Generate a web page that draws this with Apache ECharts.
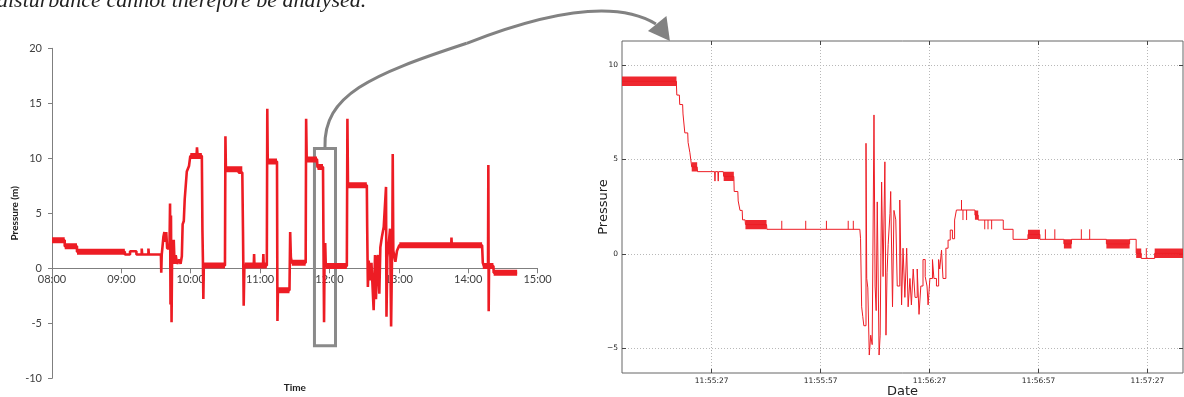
<!DOCTYPE html>
<html>
<head>
<meta charset="utf-8">
<script src="https://cdn.jsdelivr.net/npm/echarts@6/dist/echarts.min.js"></script>
<style>
  html, body { margin: 0; padding: 0; background: #fff; }
  #chart { width: 1184px; height: 397px; }
</style>
</head>
<body>
<div id="chart"></div>
<script>
// ---- overview (left): minutes after 08:00, pressure in m ----
const overviewMin = [
  0, 11, 11, 21.6, 21.6, 63, 63,
  67.5, 67.5, 73, 73, 77.6, 77.6, 78, 83.4, 83.4, 83.8,
  94.2, 94.5, 94.9, 95.6, 96.4, 97.2, 98, 98.8, 99.6, 101.6,
  102.1, 102.5, 102.9, 103.4, 103.9, 104.6, 105.3, 106, 107, 108.2, 110, 111.2, 112.3,
  113, 114, 114.8, 115.8, 116.6, 118.5, 119.6, 125, 125.4, 125.8, 129.6,
  130.1, 130.5, 130.9, 131.3, 149.6,
  150, 150.4, 161, 161.5, 164.6, 165.2, 165.8, 166.4,
  174.5, 174.8, 175.1, 182.5, 182.8, 183.1, 185.8,
  186.2, 186.6, 194.6, 195, 195.4, 205.4,
  206, 206.6, 207.4, 219.4,
  219.8, 220.3, 229.2, 229.6, 234.4,
  234.8, 235.3, 235.7, 236.3, 236.8, 255,
  255.5, 256, 272.3,
  272.6, 273.2, 273.9, 275.1, 276.3, 278.2, 279.4, 280.2, 281.4, 282, 283.1, 284, 285.4, 286.9, 288.6,
  288.9, 289.3, 290, 291.2, 292.4, 293.3, 294.4, 294.7, 295.2, 297, 298.4, 300.4,
  345.3, 345.5, 345.8, 372,
  372.6, 373.6, 377.1, 377.4, 377.7, 378, 381.8, 382, 402.3
];
const overviewVal = [
  2.55, 2.55, 2.0, 2.0, 1.5, 1.5, 1.25,
  1.25, 1.55, 1.55, 1.25, 1.25, 1.8, 1.25, 1.25, 1.8, 1.25,
  1.25, -0.4, 1.25, 2.0, 2.9, 3.3, 2.4, 3.3, 1.8, 1.8,
  5.9, -3.3, 4.8, -4.9, 1.5, 0.4, 2.6, 0.4, 1.2, 0.4, 0.8, 0.4, 1.1,
  4.0, 4.3, 6.3, 6.4, 8.8, 9.3, 10.2, 10.2, 11.0, 10.4, 10.2,
  3.5, 1.0, -2.8, 0.25, 0.25,
  12.0, 9.1, 9.1, 8.7, 8.7, 3.3, -3.4, 0.25,
  0.25, 1.3, 0.25, 0.25, 1.3, 0.25, 0.25,
  14.5, 9.7, 9.7, -4.8, -2.0, -2.0,
  3.3, 1.0, 0.5, 0.5,
  13.6, 9.9, 9.9, 9.2, 9.2,
  2.3, -4.9, 0.5, 2.3, 0.2, 0.2,
  13.6, 7.55, 7.55,
  3.8, -1.7, 0.7, -1.1, 0.5, -3.8, 1.2, -2.8, 1.0, 1.2, -2.3, 1.9, 2.9, 3.75, 3.75,
  7.4, -4.4, 1.0, 2.2, 3.6, -5.3, 3.6, 10.4, 1.6, 0.6, 1.6, 2.1,
  2.1, 2.8, 2.1, 2.1,
  0.5, 0.2, 0.2, 9.4, -3.9, 0.2, 0.2, -0.4, -0.4
];
// noisy plateaus of the overview, drawn as a thick band
const overviewBandFrom  = [0, 11, 21.6, 119.6, 131.3, 150.4, 166.4, 186.6, 195.4, 207.4, 220.3, 229.6, 236.8, 256, 286.9, 300.4, 372.6, 382];
const overviewBandTo    = [11, 21.6, 63, 129.6, 149.6, 164.6, 185.8, 194.6, 205.4, 219.4, 229.2, 234.4, 255, 272.3, 288.6, 372, 381.8, 402.3];
const overviewBandLevel = [2.55, 2.0, 1.5, 10.2, 0.25, 9.0, 0.25, 9.7, -2.0, 0.5, 9.9, 9.2, 0.2, 7.55, 3.75, 2.1, 0.2, -0.4];
const overviewTicks = ['08:00', '09:00', '10:00', '11:00', '12:00', '13:00', '14:00', '15:00'];

// zoomed window marked on the overview
const zoomFrom = 227.0, zoomTo = 245.2, zoomTop = 10.88, zoomBottom = -7.05;

// ---- detail (right): seconds after 11:55:00 ----
const detailSec = [
  2.3, 17.3, 17.4, 18.1, 18.2, 19.0, 19.1, 19.5, 19.6, 20.4, 20.5, 20.9, 21.0, 21.4, 21.5, 23.0,
  23.1, 27.8, 27.9, 28.0, 28.7, 28.8, 28.9, 30.2, 30.3, 33.1, 33.2, 34.2, 34.3, 34.7, 34.8, 35.4,
  35.5, 36.2, 36.3, 42.1, 42.2,
  67.8, 68.0, 68.3, 68.6, 68.9, 69.3, 69.5, 69.7, 70.0, 70.4, 70.8, 71.2, 71.7, 72.0, 72.3, 72.6,
  73.1, 73.4, 73.8, 74.2, 74.7, 75.0, 75.3, 75.6, 76.1, 76.3, 76.8, 77.2, 77.7, 78.1, 78.8, 79.3,
  79.7, 80.2, 80.7, 81.1, 81.6, 82.0, 82.5, 83.0, 83.6, 84.1, 84.6, 85.2, 85.8, 86.3, 86.6, 87.1,
  87.8, 88.2, 88.9, 89.5, 89.8, 90.3, 90.7, 91.5, 92.1, 92.7, 93.3, 93.9, 94.4,
  99.5, 100.4, 107.3, 110.0, 114.1, 117.4, 124.0, 126.1, 135.7, 142.1, 143.9, 145.3, 149.0, 156.8
];
const detailVal = [
  9.13, 8.88, 8.4, 8.4, 7.9, 7.9, 7.4, 7.4, 6.4, 6.4, 5.9, 5.9, 5.35, 5.35, 4.6, 4.6,
  4.35, 4.35, 3.85, 4.35, 4.35, 3.85, 4.35, 4.35, 4.1, 4.1, 3.3, 3.3, 2.8, 2.8, 2.3, 2.3,
  1.8, 1.8, 1.55, 1.55, 1.3,
  1.3, 0.8, -2.8, -3.3, -3.8, -3.8, 5.85, -1.3, -1.8, -5.35, -4.3, -4.8, 7.35, -1.7, -3.0, 2.75,
  -5.35, -4.3, 3.8, -1.2, 4.87, -4.3, -1.0, 0.5, 2.14, 3.3, -2.8, 2.3, 1.8, -1.7, 2.85, -2.7,
  0.3, -2.3, 0.3, -2.8, -1.3, -2.7, -0.8, -2.3, -0.8, -3.2, -1.7, -0.3, -1.2, -1.7, -2.7, -1.3,
  -0.3, -1.3, -1.7, -0.3, -0.8, 0.2, -1.3, 0.3, 0.73, 1.26, 0.8, 1.79, 2.32,
  2.05, 1.79, 1.3, 0.77, 1.03, 0.77, 0.53, 0.77, 0.53, 0.77, 0.03, -0.24, 0.03, 0.03
];
// rapid switching between two adjacent readings, drawn as a band
const detailBandFrom  = [2.3, 21.5, 30.3, 36.3, 99.5, 114.1, 124.0, 135.7, 143.9, 149.0];
const detailBandTo    = [17.3, 23.0, 33.1, 42.1, 100.4, 117.4, 126.1, 142.1, 145.3, 156.8];
const detailBandLevel = [9.13, 4.6, 4.1, 1.55, 2.05, 1.03, 0.53, 0.53, 0.03, 0.03];
// single readings that jump away from the held level
const detailSpikeSec  = [46.3, 52.9, 58.6, 64.6, 66.0, 95.8, 96.2, 97.2, 102.2, 103.1, 104.1, 118.9, 121.5, 128.8, 131.1, 146.7];
const detailSpikeBase = [1.3, 1.3, 1.3, 1.3, 1.3, 2.32, 2.32, 2.32, 1.79, 1.79, 1.79, 0.77, 0.77, 0.77, 0.77, -0.24];
const detailSpikeTop  = [1.75, 1.75, 1.75, 1.75, 1.75, 2.85, 1.79, 1.79, 1.3, 1.3, 1.3, 1.3, 1.3, 1.3, 1.3, 0.3];
const detailTicks = [27, 57, 87, 117, 147];
const detailYTicks = [-5, 0, 5, 10];
const detailMin = 2.3, detailMax = 156.8;

const RED = '#ed1c24';

function pairs(xs, ys) { return xs.map((x, i) => [x, ys[i]]); }
function bands(from, to, level) {
  const out = [];
  from.forEach((f, i) => { out.push([f, level[i]], [to[i], level[i]], [to[i], '-']); });
  return out;
}
function spikes(sec, base, top) {
  const out = [];
  sec.forEach((s, i) => { out.push([s, base[i]], [s, top[i]], [s, '-']); });
  return out;
}
function clock(sec) {
  const t = 11 * 3600 + 55 * 60 + Math.round(sec);
  const p = (n) => String(n).padStart(2, '0');
  return p(Math.floor(t / 3600)) + ':' + p(Math.floor(t / 60) % 60) + ':' + p(t % 60);
}

const tickFont = { fontFamily: 'DejaVu Sans', fontSize: 7.5, color: '#222' };

const option = {
  animation: false,
  grid: [
    { left: 52, top: 48.3, width: 485.6, height: 330, show: false, outerBoundsMode: 'none' },
    { left: 622, top: 41, width: 561, height: 332, show: true, borderColor: '#666', borderWidth: 1, outerBoundsMode: 'none' }
  ],
  xAxis: [
    {
      gridIndex: 0, type: 'value', min: 0, max: 420, interval: 60,
      axisLine: { show: true, onZero: true, lineStyle: { color: '#7f7f7f' } },
      axisTick: { show: true, length: 5, lineStyle: { color: '#7f7f7f' } },
      // labels sit under the zero line, not under the grid bottom (110 px lower)
      axisLabel: { formatter: (v) => overviewTicks[v / 60], color: '#404040', fontSize: 11, fontFamily: 'Lato', margin: -104 },
      splitLine: { show: false },
      name: 'Time', nameLocation: 'middle', nameGap: 4, nameMoveOverlap: false,
      nameTextStyle: { fontFamily: 'Lato', fontWeight: 'bold', fontSize: 10, color: '#222' }
    },
    {
      gridIndex: 1, type: 'value', min: detailMin, max: detailMax,
      axisLine: { show: false, onZero: false },
      axisTick: { show: true, inside: true, length: 4, customValues: detailTicks, lineStyle: { color: '#444' } },
      axisLabel: Object.assign({ customValues: detailTicks, formatter: clock, margin: 4 }, tickFont),
      splitLine: { show: true, lineStyle: { color: '#b8b8b8', type: [1, 2] } },
      name: 'Date', nameLocation: 'middle', nameGap: 12, nameMoveOverlap: false,
      nameTextStyle: { fontFamily: 'DejaVu Sans', fontSize: 13, color: '#222' }
    },
    {
      gridIndex: 1, type: 'value', position: 'top', min: detailMin, max: detailMax,
      axisLine: { show: false, onZero: false },
      axisTick: { show: true, inside: true, length: 4, customValues: detailTicks, lineStyle: { color: '#444' } },
      axisLabel: { show: false }, splitLine: { show: false }
    }
  ],
  yAxis: [
    {
      gridIndex: 0, type: 'value', min: -10, max: 20, interval: 5,
      axisLine: { show: true, onZero: false, lineStyle: { color: '#7f7f7f' } },
      axisTick: { show: true, length: 4, lineStyle: { color: '#7f7f7f' } },
      axisLabel: { color: '#404040', fontSize: 11, fontFamily: 'Lato', margin: 10 },
      splitLine: { show: false },
      name: 'Pressure (m)', nameLocation: 'middle', nameGap: 32, nameRotate: 90, nameMoveOverlap: false,
      nameTextStyle: { fontFamily: 'Lato', fontWeight: 'bold', fontSize: 10, color: '#222' }
    },
    {
      gridIndex: 1, type: 'value', min: -6.3, max: 11.26,
      axisLine: { show: false, onZero: false },
      axisTick: { show: true, inside: true, length: 4, customValues: detailYTicks, lineStyle: { color: '#444' } },
      axisLabel: Object.assign({ customValues: detailYTicks, formatter: (v) => String(v).replace('-', '\u2212'), margin: 4 }, tickFont),
      splitLine: { show: true, lineStyle: { color: '#b8b8b8', type: [1, 2] } },
      name: 'Pressure', nameLocation: 'middle', nameGap: 12, nameRotate: 90, nameMoveOverlap: false,
      nameTextStyle: { fontFamily: 'DejaVu Sans', fontSize: 13, color: '#222' }
    },
    {
      gridIndex: 1, type: 'value', position: 'right', min: -6.3, max: 11.26,
      axisLine: { show: false, onZero: false },
      axisTick: { show: true, inside: true, length: 4, customValues: detailYTicks, lineStyle: { color: '#444' } },
      axisLabel: { show: false }, splitLine: { show: false }
    }
  ],
  series: [
    {
      type: 'line', xAxisIndex: 0, yAxisIndex: 0, showSymbol: false,
      lineStyle: { color: RED, width: 2.6 }, itemStyle: { color: RED },
      data: pairs(overviewMin, overviewVal),
      markArea: {
        silent: true,
        itemStyle: { color: 'rgba(0,0,0,0)', borderColor: '#8a8a8a', borderWidth: 3 },
        data: [[{ coord: [zoomFrom, zoomTop] }, { coord: [zoomTo, zoomBottom] }]]
      }
    },
    {
      type: 'line', xAxisIndex: 0, yAxisIndex: 0, showSymbol: false,
      lineStyle: { color: RED, width: 6, cap: 'butt' }, itemStyle: { color: RED },
      data: bands(overviewBandFrom, overviewBandTo, overviewBandLevel)
    },
    {
      type: 'line', xAxisIndex: 1, yAxisIndex: 1, showSymbol: false, step: 'end',
      lineStyle: { color: RED, width: 1 }, itemStyle: { color: RED },
      data: pairs(detailSec, detailVal)
    },
    {
      type: 'line', xAxisIndex: 1, yAxisIndex: 1, showSymbol: false,
      lineStyle: { color: RED, width: 9.4, cap: 'butt', opacity: 0.95 }, itemStyle: { color: RED },
      data: bands(detailBandFrom, detailBandTo, detailBandLevel)
    },
    {
      type: 'line', xAxisIndex: 1, yAxisIndex: 1, showSymbol: false,
      lineStyle: { color: RED, width: 1 }, itemStyle: { color: RED },
      data: spikes(detailSpikeSec, detailSpikeBase, detailSpikeTop)
    }
  ],
  graphic: [
    {
      id: 'caption', type: 'text', left: -3, top: -10, silent: true,
      style: { text: 'disturbance cannot therefore be analysed.', fontFamily: 'Liberation Serif', fontStyle: 'italic', fontSize: 22, fill: '#222' }
    }
  ]
};

const chart = echarts.init(document.getElementById('chart'), null, { renderer: 'canvas' });
chart.setOption(option);

// arrow from the marked window to the detail plot
const [sx, sy] = chart.convertToPixel({ xAxisIndex: 0, yAxisIndex: 0 }, [(zoomFrom + zoomTo) / 2, zoomTop]);
const [tx, ty] = chart.convertToPixel({ xAxisIndex: 1, yAxisIndex: 1 }, [15.5, 11.26]);
const arrowStyle = { stroke: '#828282', lineWidth: 3, fill: null };
chart.setOption({
  graphic: [
    { id: 'arrow1', type: 'bezierCurve', silent: true, z: 100,
      shape: { x1: sx, y1: sy - 1.5, cpx1: sx - 1.5, cpy1: 95, cpx2: 370, cpy2: 75, x2: 466.7, y2: 43.3 },
      style: arrowStyle },
    { id: 'arrow2', type: 'bezierCurve', silent: true, z: 100,
      shape: { x1: 466.7, y1: 43.3, cpx1: 556.7, cpy1: 8, cpx2: 620, cpy2: 2, x2: tx - 14, y2: ty - 17 },
      style: arrowStyle },
    { id: 'head', type: 'polygon', silent: true, z: 100,
      shape: { points: [[tx, ty], [tx - 22, ty - 10], [tx - 3.5, ty - 25]] },
      style: { fill: '#828282' } }
  ]
});
</script>
</body>
</html>
